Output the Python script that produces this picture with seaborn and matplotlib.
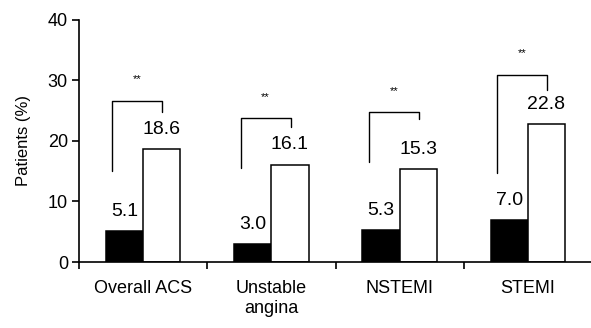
import pandas as pd
import matplotlib.pyplot as plt
import seaborn as sns

# Datos del grafico
categories = ['Overall ACS', 'Unstable\nangina', 'NSTEMI', 'STEMI']
series = ['Group 1', 'Group 2']
values_black = [5.1, 3.0, 5.3, 7.0]
values_white = [18.6, 16.1, 15.3, 22.8]

# Corchetes de significancia (alturas en %)
bracket_top = [26.6, 23.8, 24.8, 30.9]
bracket_left_low = [15.0, 15.5, 16.5, 14.7]
bracket_right_low = [24.8, 22.3, 23.6, 28.4]
star_y = [30.2, 27.3, 28.3, 34.5]

df = pd.DataFrame({
    'category': categories * 2,
    'series': [series[0]] * 4 + [series[1]] * 4,
    'value': values_black + values_white,
})

sns.set_style('ticks')
plt.rcParams['font.family'] = ['Liberation Sans', 'DejaVu Sans']
for k in ['text.color', 'axes.labelcolor', 'xtick.color', 'ytick.color', 'axes.edgecolor']:
    plt.rcParams[k] = 'black'

fig = plt.figure(figsize=(5.91, 3.28), dpi=100)
ax = fig.add_axes([0.1337, 0.2012, 0.868, 0.738])

sns.barplot(data=df, x='category', y='value', hue='series',
            palette=['black', 'white'], edgecolor='black', linewidth=1.1,
            width=0.58, legend=False, ax=ax)

for cont in ax.containers:
    ax.bar_label(cont, fmt='%.1f', padding=8, fontsize=14)

# Corchetes
for i in range(len(categories)):
    xl = i - 0.24
    xr = i + 0.15
    ax.plot([xl, xl, xr, xr],
            [bracket_left_low[i], bracket_top[i], bracket_top[i], bracket_right_low[i]],
            color='black', lw=1.0)
    ax.text((xl + xr) / 2, star_y[i], '**', ha='center', va='center', fontsize=8)

ax.set_xlim(-0.5, 3.5)
ax.set_ylim(0, 40)
ax.set_yticks([0, 10, 20, 30, 40])
ax.set_xticks([-0.5, 0.5, 1.5, 2.5], minor=True)
ax.tick_params(axis='x', which='major', length=0, pad=13, labelsize=13)
ax.tick_params(axis='x', which='minor', length=5, width=1.2, direction='out')
ax.tick_params(axis='y', length=5, width=1.2, labelsize=13, pad=3)
ax.set_xlabel('')
ax.set_ylabel('Patients (%)', fontsize=12, labelpad=12)
for s in ['left', 'bottom']:
    ax.spines[s].set_linewidth(1.2)
sns.despine(ax=ax)
ax.spines['bottom'].set_bounds(-0.5, 3.5)

fig.savefig('out.png', dpi=100)
